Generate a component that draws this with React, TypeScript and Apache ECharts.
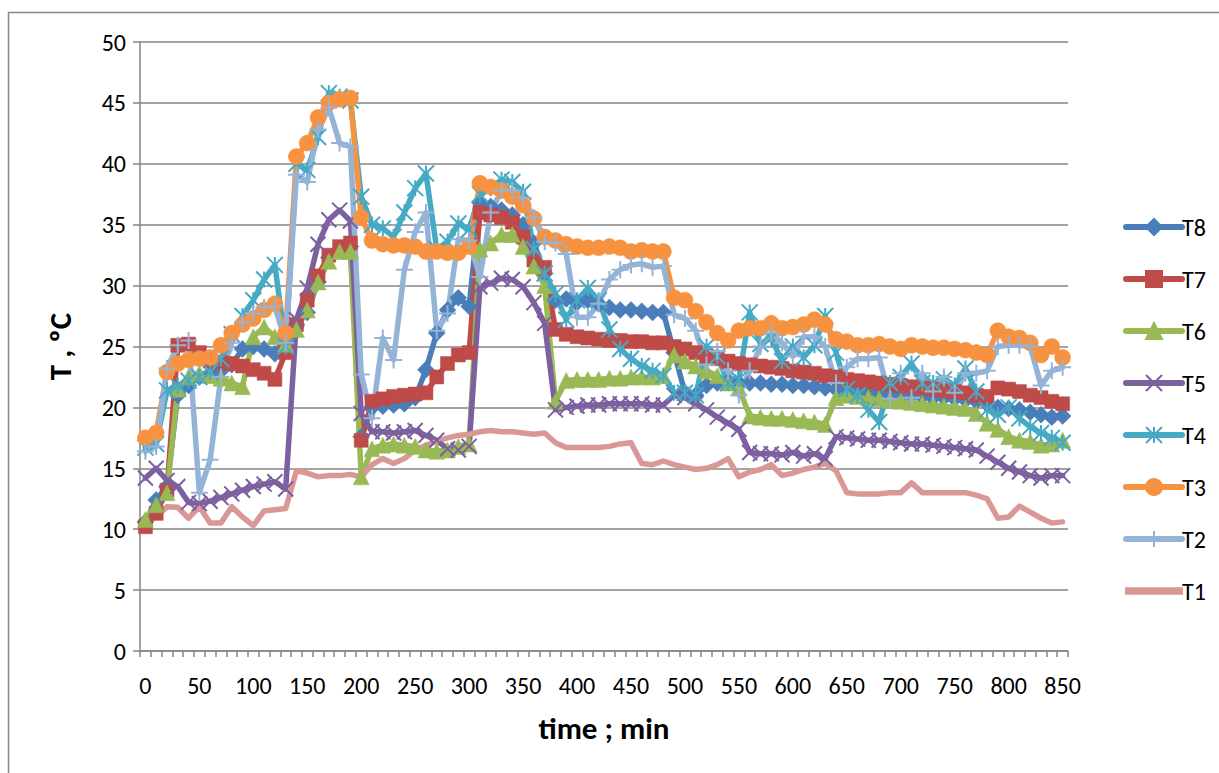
import React, { useEffect, useRef } from 'react';
import * as echarts from 'echarts';

const timeMin = ['0','10','20','30','40','50','60','70','80','90','100','110','120','130','140','150','160','170','180','190','200','210','220','230','240','250','260','270','280','290','300','310','320','330','340','350','360','370','380','390','400','410','420','430','440','450','460','470','480','490','500','510','520','530','540','550','560','570','580','590','600','610','620','630','640','650','660','670','680','690','700','710','720','730','740','750','760','770','780','790','800','810','820','830','840','850'];

const T8 = [10.6,12.4,13.5,21.0,21.8,22.5,22.8,23.0,23.5,24.8,25.0,24.8,24.4,25.8,26.8,27.8,30.3,32.3,33.0,33.2,17.6,20.0,20.1,20.2,20.3,20.8,23.1,26.1,28.0,29.0,28.3,36.8,36.5,36.2,35.8,35.0,33.5,31.0,28.8,28.9,28.6,28.8,28.5,28.2,28.0,28.0,27.9,27.8,27.8,24.5,21.2,21.0,21.8,22.0,22.1,22.0,22.0,22.0,21.9,21.9,21.8,21.8,21.7,21.6,21.5,21.4,21.3,21.3,21.2,21.1,21.0,21.0,20.9,20.8,20.8,20.7,20.6,20.5,20.3,20.0,19.9,19.8,19.6,19.4,19.2,19.3];
const T7 = [10.2,11.3,13.2,25.1,25.2,24.5,23.8,23.7,23.6,23.4,23.1,22.8,22.3,24.5,26.8,28.8,30.8,32.5,33.2,33.5,17.3,20.5,20.7,20.9,21.0,21.1,21.2,22.5,23.6,24.3,24.5,36.0,35.8,35.6,35.2,34.0,32.1,31.5,26.4,26.0,25.8,25.7,25.6,25.5,25.5,25.4,25.4,25.3,25.3,25.0,24.8,24.5,24.2,24.0,23.8,23.6,23.5,23.4,23.3,23.2,23.0,22.9,22.8,22.6,22.5,22.3,22.2,22.1,22.0,21.9,21.8,21.7,21.6,21.5,21.4,21.3,21.2,21.0,20.9,21.6,21.5,21.3,21.0,20.8,20.5,20.3];
const T6 = [10.8,12.0,13.0,21.5,22.5,22.8,22.6,22.4,22.0,21.7,25.8,26.6,25.8,25.2,26.4,28.0,30.3,32.0,32.8,32.8,14.3,16.6,16.9,17.0,16.9,16.8,16.5,16.4,16.5,16.8,17.0,33.0,33.5,34.2,34.2,33.2,31.6,30.0,20.5,22.2,22.3,22.3,22.3,22.4,22.4,22.5,22.5,22.5,22.6,24.3,23.8,23.4,23.0,22.6,22.0,21.6,19.3,19.2,19.1,19.1,19.0,18.9,18.8,18.6,20.8,21.0,20.9,20.8,20.7,20.6,20.5,20.4,20.3,20.2,20.1,20.0,19.9,19.5,18.7,18.2,17.6,17.3,17.2,16.9,17.0,17.3];
const T5 = [14.2,15.0,14.0,13.5,12.2,12.1,12.3,12.6,12.9,13.2,13.5,13.7,13.9,13.3,27.2,29.8,33.4,35.4,36.2,35.3,19.5,18.0,18.0,17.9,18.0,18.1,17.7,17.3,16.6,16.5,16.8,29.9,30.2,30.6,30.5,29.9,28.6,26.9,19.8,20.0,20.1,20.2,20.2,20.3,20.3,20.3,20.3,20.2,20.2,21.0,20.8,20.3,19.8,19.2,18.7,18.2,16.3,16.2,16.2,16.1,16.3,16.0,16.2,15.8,17.6,17.5,17.4,17.3,17.3,17.2,17.1,17.0,17.0,16.9,16.8,16.7,16.6,16.5,16.0,15.5,15.0,14.7,14.4,14.2,14.4,14.4];
const T4 = [16.7,17.0,21.4,21.8,22.2,22.5,22.9,24.0,26.0,27.5,28.8,30.5,31.7,25.0,40.0,39.5,42.2,45.8,45.5,45.2,37.3,35.0,34.7,34.0,36.0,38.0,39.2,33.0,33.6,35.1,34.6,37.5,38.0,38.7,38.5,37.7,33.0,31.0,29.3,27.2,28.8,29.8,28.8,26.4,24.8,24.0,23.4,23.0,22.6,21.2,21.2,21.0,25.0,24.2,22.0,22.3,27.8,25.2,25.7,23.8,25.0,24.1,25.1,27.5,24.5,21.5,21.0,19.8,18.8,22.0,22.5,23.6,22.0,22.0,22.3,21.8,23.2,21.3,19.8,19.4,20.0,19.1,18.4,17.9,17.5,17.1];
const T3 = [17.5,17.9,22.9,23.6,23.9,24.0,24.1,25.1,26.1,26.8,27.3,28.0,28.5,26.1,40.6,41.7,43.8,45.0,45.3,45.4,35.6,33.7,33.4,33.3,33.3,33.2,32.8,32.8,32.7,32.7,33.2,38.4,38.1,37.8,37.3,36.6,35.5,34.0,33.7,33.4,33.2,33.1,33.1,33.2,33.1,32.8,32.9,32.8,32.8,29.0,28.8,27.9,27.0,26.1,25.5,26.3,26.5,26.5,26.9,26.5,26.6,26.8,27.2,26.8,25.6,25.4,25.1,25.1,25.2,25.0,24.8,25.1,25.0,24.9,24.9,24.8,24.7,24.5,24.3,26.3,25.8,25.7,25.3,24.3,25.0,24.1];
const T2 = [16.4,16.8,23.2,25.1,25.5,13.0,15.7,22.5,25.3,27.0,27.7,28.2,28.3,25.3,39.1,38.5,42.8,44.6,41.7,41.4,22.7,19.1,25.7,23.9,31.3,34.4,36.0,26.3,27.7,33.8,33.7,30.7,36.0,37.8,37.8,37.2,35.6,33.6,33.5,32.6,27.4,27.4,28.5,30.5,31.3,31.7,31.8,31.5,31.6,27.6,27.3,26.3,23.5,24.6,23.0,21.0,23.0,25.0,26.1,25.3,24.2,25.8,25.8,25.0,22.0,23.3,24.0,24.0,24.1,20.7,22.8,20.8,22.8,21.3,22.5,21.2,22.8,22.8,23.0,25.0,25.1,25.1,25.0,21.8,23.0,23.3];
const T1 = [10.75,11.0,11.85,11.8,10.9,11.85,10.5,10.5,11.85,11.0,10.3,11.5,11.6,11.7,14.8,14.6,14.3,14.4,14.4,14.5,14.3,15.3,15.8,15.4,15.8,16.5,16.9,17.2,17.5,17.7,17.8,18.0,18.1,18.0,18.0,17.9,17.8,17.9,17.1,16.7,16.7,16.7,16.7,16.8,17.0,17.1,15.4,15.3,15.6,15.3,15.1,14.9,15.0,15.3,15.8,14.3,14.7,14.9,15.3,14.4,14.6,14.9,15.1,15.4,14.8,13.0,12.9,12.9,12.9,13.0,13.0,13.8,13.0,13.0,13.0,13.0,13.0,12.8,12.5,10.9,11.0,11.9,11.4,10.9,10.5,10.6];

const yTicks = { min: 0, max: 50, interval: 5 };

const FONT = 'Carlito, Calibri, Lato, sans-serif';
const GRAY = '#868686';

const SYM_X = 'path://M0,0L10,10M10,0L0,10';
const SYM_STAR = 'path://M0,0L10,10M10,0L0,10M5,0L5,10';
const SYM_PLUS = 'path://M5,0L5,10M0,5L10,5';
const ICON_LINE = 'path://M0,0L56,0L56,5.5L0,5.5Z';

const seriesDefs = [
  { name: 'T8', data: T8, color: '#4A7EBB', symbol: 'diamond', size: 17, stroke: false },
  { name: 'T7', data: T7, color: '#BE4B48', symbol: 'rect', size: 14, stroke: false },
  { name: 'T6', data: T6, color: '#98B954', symbol: 'triangle', size: 16, stroke: false },
  { name: 'T5', data: T5, color: '#7D60A0', symbol: SYM_X, size: 15, stroke: true },
  { name: 'T4', data: T4, color: '#46AAC5', symbol: SYM_STAR, size: 16, stroke: true },
  { name: 'T3', data: T3, color: '#F69240', symbol: 'circle', size: 16, stroke: false },
  { name: 'T2', data: T2, color: '#95B3D7', symbol: SYM_PLUS, size: 17, stroke: true },
  { name: 'T1', data: T1, color: '#D99795', symbol: 'none', size: 0, stroke: false },
];

export default function App() {
  const ref = useRef<HTMLDivElement>(null);
  useEffect(() => {
    if (!ref.current) return;
    const chart = echarts.init(ref.current, undefined, { renderer: 'svg' });
    chart.setOption({
      animation: false,
      backgroundColor: '#ffffff',
      graphic: [
        {
          type: 'rect',
          shape: { x: 8.5, y: 12.5, width: 1300, height: 900 },
          style: { fill: 'none', stroke: GRAY, lineWidth: 1.5 },
          silent: true,
        },
      ],
      grid: { left: 140, right: 151, top: 42, bottom: 122, containLabel: false },
      legend: {
        orient: 'vertical',
        left: 1118,
        top: 210,
        itemWidth: 56,
        itemHeight: 20,
        itemGap: 28,
        lineStyle: { width: 6, cap: 'round' },
        data: seriesDefs.map((s) =>
          s.symbol === 'none' ? { name: s.name, icon: ICON_LINE } : { name: s.name }
        ),
        textStyle: { fontFamily: FONT, fontSize: 24, color: '#000', lineHeight: 20, padding: [0, 0, 0, -5] },
      },
      xAxis: {
        type: 'category',
        data: timeMin,
        boundaryGap: true,
        name: 'time ; min',
        nameLocation: 'middle',
        nameGap: 61,
        nameTextStyle: { fontFamily: FONT, fontSize: 31, fontWeight: 'bold', color: '#000' },
        axisLine: { lineStyle: { color: GRAY, width: 1.5 } },
        axisTick: { show: true, interval: 0, alignWithLabel: false, length: 6, lineStyle: { color: GRAY, width: 1.5 } },
        axisLabel: { interval: 4, fontFamily: FONT, fontSize: 24, color: '#000', margin: 22 },
        splitLine: { show: false },
      },
      yAxis: {
        type: 'value',
        min: yTicks.min,
        max: yTicks.max,
        interval: yTicks.interval,
        name: 'T , ºC',
        nameLocation: 'middle',
        nameGap: 65,
        nameRotate: 90,
        nameTextStyle: { fontFamily: FONT, fontSize: 31, fontWeight: 'bold', color: '#000' },
        axisLine: { show: true, lineStyle: { color: GRAY, width: 1.5 } },
        axisTick: { show: true, length: 7, lineStyle: { color: GRAY, width: 1.5 } },
        axisLabel: { fontFamily: FONT, fontSize: 24, color: '#000', margin: 14 },
        splitLine: { show: true, lineStyle: { color: GRAY, width: 1.5 } },
      },
      series: seriesDefs.map((s) => ({
        name: s.name,
        type: 'line',
        data: s.data,
        symbol: s.symbol,
        symbolSize: s.size,
        showSymbol: s.symbol !== 'none',
        showAllSymbol: true,
        lineStyle: { color: s.color, width: 5.5, cap: 'round', join: 'round' },
        itemStyle: s.stroke
          ? { color: s.color, borderColor: s.color, borderWidth: 2 }
          : { color: s.color, borderColor: s.color, borderWidth: 0.5 },
        emphasis: { disabled: true },
      })),
    });
    return () => chart.dispose();
  }, []);
  return (
    <div
      ref={ref}
      style={{ position: 'fixed', left: 0, top: 0, width: 1219, height: 773, background: '#fff' }}
    />
  );
}
